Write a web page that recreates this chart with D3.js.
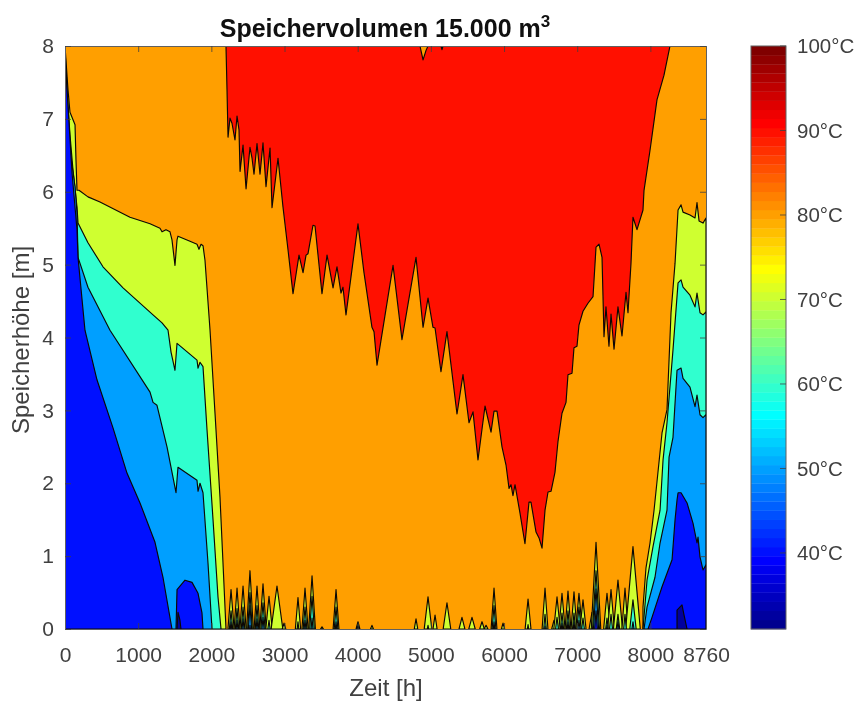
<!DOCTYPE html>
<html><head><meta charset="utf-8">
<script src="https://cdn.jsdelivr.net/npm/d3@7"></script>
<style>
html,body{margin:0;padding:0;background:#fff}
svg{display:block;filter:blur(0.5px)}
text{font-family:"Liberation Sans",Arial,sans-serif;fill:#404040}
</style></head><body>
<div id="chart"></div>
<script>
// ---------- values: [hour, storage height in m] ----------
const title = "Speichervolumen 15.000 m", titleSup = "3";
const xLabel = "Zeit [h]", yLabel = "Speicherhöhe [m]";
const xTicks = [0,1000,2000,3000,4000,5000,6000,7000,8000,8760];
const yTicks = [0,1,2,3,4,5,6,7,8];
const cbarTicks = [40,50,60,70,80,90,100];
const cbarRange = [31,100];

const levelOrange = 80, levelRed = 90, levelYellow = 70, levelAqua = 60, levelAzure = 50, levelBlue = 40, levelNavy = 33;

const redEdge = [[2200,8],[2214,7.4],[2228,6.75],[2255,7.01],[2282,6.94],[2323,6.71],[2351,7.04],[2378,6.85],[2392,6.28],[2433,6.64],[2474,6.04],[2528,6.61],[2556,6.46],[2583,6.24],[2624,6.66],[2665,6.24],[2706,6.67],[2747,6.07],[2802,6.6],[2829,5.78],[2911,6.46],[2979,5.79],[3048,5.2],[3116,4.6],[3198,5.13],[3253,4.89],[3294,5.13],[3321,5.15],[3389,5.54],[3417,5.53],[3512,4.6],[3581,5.13],[3663,4.68],[3717,4.97],[3772,4.61],[3799,4.69],[3840,4.31],[4004,5.56],[4086,4.89],[4195,4.14],[4223,4.08],[4264,3.62],[4483,4.99],[4605,3.97],[4797,5.1],[4893,4.14],[4961,4.54],[5029,4.14],[5057,4.13],[5138,3.53],[5220,4.08],[5357,2.95],[5439,3.49],[5521,2.83],[5576,2.98],[5644,2.32],[5740,3.06],[5822,2.7],[5863,2.99],[5904,2.99],[5972,2.5],[6027,2.25],[6068,1.93],[6095,1.98],[6122,1.83],[6150,1.98],[6218,1.59],[6286,1.17],[6341,1.74],[6368,1.74],[6437,1.33],[6478,1.25],[6519,1.11],[6560,1.63],[6601,1.88],[6642,1.89],[6696,2.15],[6737,2.57],[6792,2.96],[6847,3.11],[6874,3.49],[6929,3.51],[6956,3.86],[6997,3.88],[7024,4.17],[7079,4.36],[7147,4.47],[7216,4.56],[7257,5.24],[7298,5.28],[7339,5.1],[7366,4.01],[7393,4.42],[7434,3.88],[7462,4.32],[7503,3.84],[7557,4.42],[7612,4.02],[7667,4.62],[7694,4.34],[7735,5.02],[7762,5.65],[7817,5.48],[7899,5.75],[7913,6.02],[7995,6.57],[8090,7.26],[8186,7.6],[8268,8],[5166,8],[5152,7.95],[5138,8],[4961,8],[4934,7.94],[4893,7.81],[4851,8]];

const leftYellow = [[0,8],[41,7.4],[68,7.09],[137,6.92],[150,6.44],[164,6.02],[191,6.02],[314,5.93],[478,5.86],[888,5.65],[1162,5.56],[1298,5.5],[1326,5.45],[1380,5.48],[1435,5.45],[1462,5.34],[1503,4.99],[1531,5.34],[1544,5.39],[1708,5.32],[1804,5.28],[1831,5.21],[1859,5.28],[1886,5.26],[1913,5.06],[1982,4.1],[2050,2.96],[2118,1.81],[2159,0.91],[2200,0]];
const leftAqua = [[0,7.95],[41,7.19],[68,6.78],[109,6.3],[164,5.79],[178,5.57],[314,5.3],[519,4.97],[793,4.68],[1203,4.31],[1326,4.2],[1408,4.1],[1449,3.8],[1503,3.55],[1531,3.92],[1804,3.69],[1818,3.58],[1845,3.66],[1886,3.6],[1941,2.73],[2023,1.5],[2091,0.44],[2132,0]];
const leftAzure = [[0,7.88],[27,7.12],[68,6.57],[137,6.07],[164,5.71],[178,5.1],[314,4.69],[615,4.1],[1162,3.25],[1203,3.11],[1257,3.07],[1394,2.5],[1517,1.87],[1544,2.22],[1804,2.04],[1818,1.89],[1845,2],[1886,1.87],[1954,0.91],[2009,0]];
const leftBlue = [[0,7.81],[14,7.63],[96,6.26],[164,5.48],[178,5.1],[273,4.1],[437,3.42],[656,2.76],[847,2.14],[1025,1.73],[1230,1.19],[1339,0.71],[1462,0]];
const blueBump = [[1517,0],[1531,0.54],[1640,0.67],[1736,0.64],[1818,0.49],[1872,0.22],[1886,0]];
const navyLeft = [[1531,0],[1544,0.23],[1571,0.12],[1585,0]];

const rightYellow = [[7899,0],[7899,0.3],[7940,0.84],[7995,1.18],[8050,1.63],[8159,2.69],[8227,3.01],[8282,4.34],[8337,5.02],[8378,5.75],[8419,5.82],[8446,5.72],[8541,5.68],[8610,5.64],[8637,5.85],[8665,5.6],[8719,5.57],[8760,5.64]];
const rightAqua = [[7899,0],[7954,0.67],[8036,1.13],[8132,1.63],[8173,2.32],[8227,2.83],[8309,3.83],[8378,4.75],[8419,4.79],[8446,4.69],[8541,4.58],[8610,4.42],[8637,4.61],[8678,4.34],[8719,4.31],[8760,4.35]];
const rightAzure = [[7913,0],[7954,0.3],[8063,0.71],[8132,1.18],[8227,1.63],[8255,2.36],[8309,2.63],[8364,3.55],[8419,3.58],[8446,3.44],[8541,3.32],[8610,3.05],[8637,3.21],[8678,2.94],[8719,2.9],[8760,2.94]];
const rightBlue = [[7968,0],[8022,0.16],[8159,0.58],[8296,0.95],[8337,1.5],[8364,1.77],[8378,1.87],[8419,1.87],[8501,1.73],[8583,1.45],[8637,1.18],[8651,1.26],[8678,0.99],[8719,0.81],[8760,0.88]];
const rightNavy = [[8364,0],[8364,0.26],[8432,0.33],[8460,0.19],[8501,0]];

// bottom peaks: hour, top height, half width (h), inner contour heights
const peakHours = [2269,2351,2433,2528,2624,2706,2788,2897,2993,3184,3280,3376,3512,3704,4004,4195,4797,4961,5057,5220,5425,5562,5699,5754,5863,5986,6328,6560,6683,6724,6792,6874,6956,7024,7079,7202,7257,7407,7462,7557,7653,7762];
const peakTops  = [.54,.56,.59,.8,.59,.62,.45,.59,.08,.43,.56,.73,.03,.54,.1,.05,.14,.44,.19,.36,.16,.16,.1,.05,.56,.08,.41,.56,.12,.44,.49,.52,.51,.49,.4,.23,1.19,.49,.54,.67,.56,1.13];
const peakHalf  = [42,40,42,46,40,44,44,80,24,36,42,46,20,40,26,20,24,52,28,52,40,44,32,26,40,22,40,40,32,44,42,40,40,44,42,40,65,46,46,62,42,100];
const peakAqua  = [.25,.28,.3,.5,.32,.36,.12,0,0,.1,.3,.45,0,.3,.05,0,0,.05,0,0,0,0,0,0,.32,0,.06,.2,0,.16,.22,.25,.22,.3,.15,0,.8,.15,.2,.2,.2,.4];
const peakAzure = [.1,.12,.14,.32,.14,.16,0,0,0,0,.12,.15,0,.1,0,0,0,0,0,0,0,0,0,0,.1,0,0,.04,0,0,.08,.1,.1,.12,0,0,.55,.05,0,.1,0,.1];
const peakBlue  = [0,0,0,.05,0,0,0,0,0,0,0,0,0,0,0,0,0,0,0,0,0,0,0,0,0,0,0,0,0,0,0,0,0,0,0,0,.25,0,0,0,0,0];

// ---------- layout ----------
const W = 858, H = 704;
const plot = {l:65, r:706, t:46, b:629};
const cb = {l:751, r:786};
const x = d3.scaleLinear().domain([0,8760]).range([plot.l, plot.r]);
const y = d3.scaleLinear().domain([0,8]).range([plot.b, plot.t]);
const cy = d3.scaleLinear().domain(cbarRange).range([plot.b, plot.t]);

// MATLAB jet(64), row n (1..64)
function jetRow(n){
  const t = n/64, c = v => Math.round(255*Math.max(0,Math.min(1,v)));
  return d3.rgb(c(Math.min(4*t-1.5,-4*t+4.5)), c(Math.min(4*t-.5,-4*t+3.5)), c(Math.min(4*t+.5,-4*t+2.5))).formatHex();
}
const levelColor = v => jetRow(Math.min(64, Math.floor((v-cbarRange[0])/(cbarRange[1]-cbarRange[0])*64)+1));

const svg = d3.select("#chart").append("svg").attr("width",W).attr("height",H);
svg.append("clipPath").attr("id","pc").append("rect")
  .attr("x",plot.l).attr("y",plot.t).attr("width",plot.r-plot.l).attr("height",plot.b-plot.t);
const g = svg.append("g").attr("clip-path","url(#pc)");
const line = d3.line().x(d=>x(d[0])).y(d=>y(d[1]));

function region(pts, level){
  g.append("path").attr("d", line(pts)+"Z")
    .attr("fill", levelColor(level)).attr("stroke","#0c0804").attr("stroke-width",1.15).attr("stroke-linejoin","round");
}
// base level
g.append("rect").attr("x",plot.l).attr("y",plot.t).attr("width",plot.r-plot.l).attr("height",plot.b-plot.t).attr("fill",levelColor(levelOrange));
region(redEdge, levelRed);

function peaks(values, level){
  peakHours.forEach((h,i)=>{
    const v = values[i]; if(!v) return;
    const w = peakHalf[i]*Math.pow(v/peakTops[i],0.8);
    region([[h-w,0],[h,v],[h+w,0]], level);
  });
}
// painted from warm to cold, each region sits on the previous one
region([...leftYellow,[0,0]], levelYellow);
region([...rightYellow,[8760,0]], levelYellow);
peaks(peakTops, levelYellow);
region([...leftAqua,[0,0]], levelAqua);
region([...rightAqua,[8760,0]], levelAqua);
peaks(peakAqua, levelAqua);
region([...leftAzure,[0,0]], levelAzure);
region([...rightAzure,[8760,0]], levelAzure);
peaks(peakAzure, levelAzure);
region([...leftBlue,[0,0]], levelBlue);
region(blueBump, levelBlue);
region([...rightBlue,[8760,0]], levelBlue);
peaks(peakBlue, levelBlue);
region(navyLeft, levelNavy);
region(rightNavy, levelNavy);

// ---------- axes ----------
const fs = 21, labelFs = 24, axisCol = "#404040";
function styleAxis(sel){
  sel.selectAll(".domain").attr("stroke","#606060").attr("stroke-width",1);
  sel.selectAll(".tick line").attr("stroke",axisCol).attr("stroke-width",0.8);
  sel.selectAll("text").attr("font-size",fs).attr("font-family",'"Liberation Sans",Arial,sans-serif').attr("fill",axisCol);
}
svg.append("g").attr("transform",`translate(0,${plot.b})`)
  .call(d3.axisBottom(x).tickValues(xTicks).tickFormat(d3.format("d")).tickSizeInner(-6).tickSizeOuter(0).tickPadding(18)).call(styleAxis);
svg.append("g").attr("transform",`translate(0,${plot.t})`)
  .call(d3.axisTop(x).tickValues(xTicks).tickFormat("").tickSizeInner(-6).tickSizeOuter(0)).call(styleAxis);
svg.append("g").attr("transform",`translate(${plot.l},0)`)
  .call(d3.axisLeft(y).tickValues(yTicks).tickFormat(d3.format("d")).tickSizeInner(-6).tickSizeOuter(0).tickPadding(11)).call(styleAxis);
svg.append("g").attr("transform",`translate(${plot.r},0)`)
  .call(d3.axisRight(y).tickValues(yTicks).tickFormat("").tickSizeInner(-6).tickSizeOuter(0)).call(styleAxis);

svg.append("text").attr("x",386).attr("y",696).attr("text-anchor","middle").attr("font-size",labelFs).text(xLabel);
svg.append("text").attr("transform","translate(29,340) rotate(-90)").attr("text-anchor","middle").attr("font-size",labelFs).text(yLabel);

const tt = svg.append("text").attr("x",385).attr("y",37).attr("text-anchor","middle")
  .attr("font-size",25).attr("font-weight","bold").style("fill","#101010").text(title);
tt.append("tspan").attr("dy",-10).attr("font-size",17).text(titleSup);

// ---------- colour bar ----------
const cg = svg.append("g");
const bandH = (plot.b-plot.t)/64;
cg.selectAll("rect").data(d3.range(1,65)).join("rect")
  .attr("x",cb.l).attr("width",cb.r-cb.l)
  .attr("y",n=>plot.b-n*bandH).attr("height",bandH+0.3)
  .attr("fill",jetRow);
cg.append("rect").attr("x",cb.l).attr("y",plot.t).attr("width",cb.r-cb.l).attr("height",plot.b-plot.t)
  .attr("fill","none").attr("stroke","#606060").attr("stroke-width",1);
cg.selectAll("line").data(cbarTicks).join("line")
  .attr("x1",cb.r-6).attr("x2",cb.r).attr("y1",cy).attr("y2",cy).attr("stroke",axisCol).attr("stroke-width",0.8);
cg.selectAll("text").data(cbarTicks).join("text")
  .attr("x",cb.r+11).attr("y",cy).attr("dy",".35em").attr("font-size",20.5).text(d=>d+"°C");
</script></body></html>
